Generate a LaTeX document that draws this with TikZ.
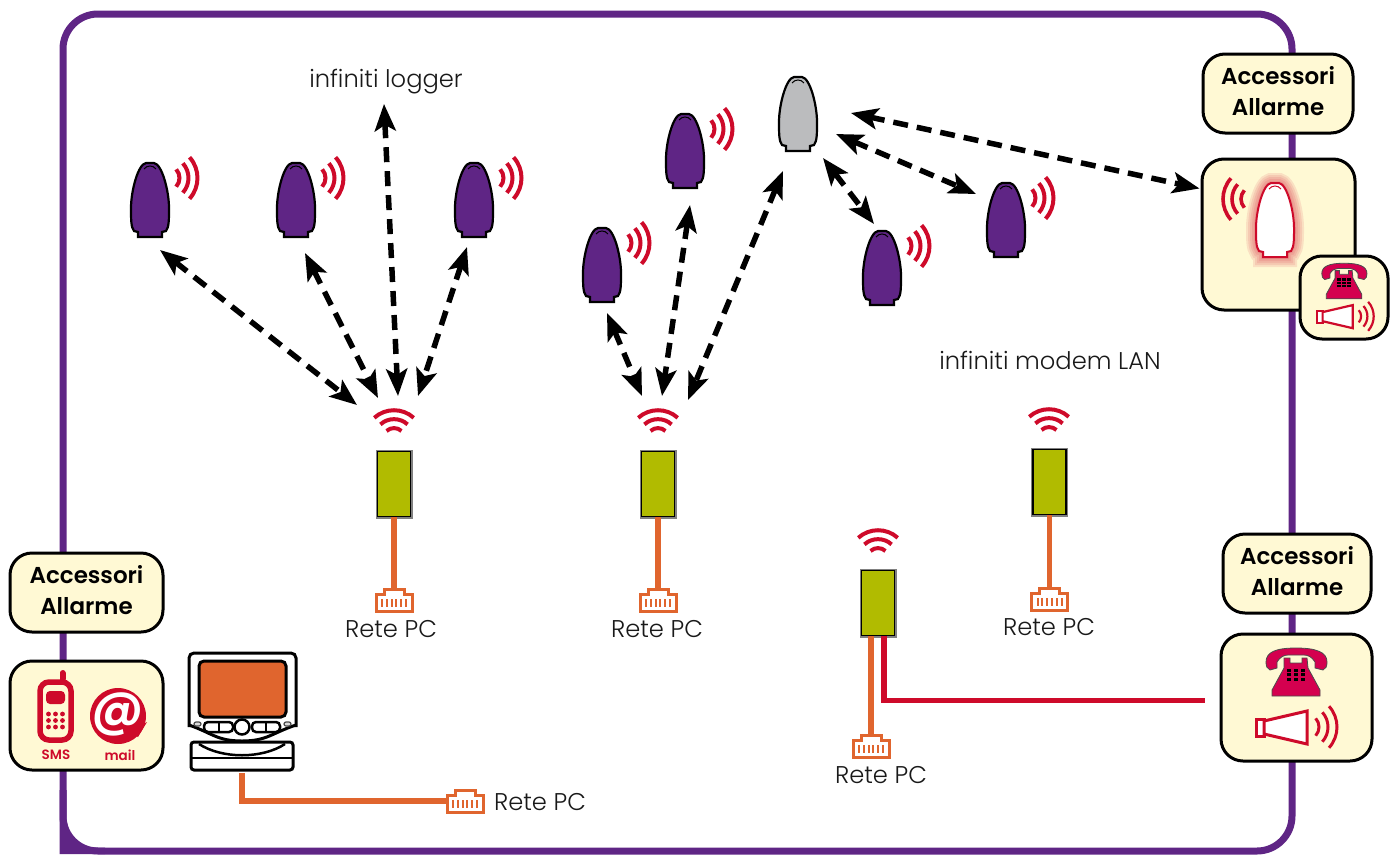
\documentclass[tikz,border=0pt]{standalone}
\usepackage{fontspec}
\newfontfamily\lightfont{Poppins}[UprightFont=* Light]
\newfontfamily\boldfont{Poppins}[UprightFont=* SemiBold]
\usetikzlibrary{positioning}
\usetikzlibrary{calc}
\usetikzlibrary{arrows.meta}

\definecolor{framepurple}{HTML}{5F2585}
\definecolor{alarmred}{HTML}{CE0A2A}
\definecolor{phonered}{HTML}{D4004F}
\definecolor{lanorange}{HTML}{E0652E}
\definecolor{routergreen}{HTML}{B1BB00}
\definecolor{boxcream}{HTML}{FFF9D4}
\definecolor{domegray}{HTML}{BBBCBE}

\newcommand{\wavearcs}{
    \foreach \r in {13, 22, 31}
        \draw[alarmred] (\r*0.743, -\r*0.669) .. controls (\r*1.085, -\r*0.289) and (\r*1.085, \r*0.289) .. (\r*0.743, \r*0.669);
}

\tikzset{
    spot/.style={inner sep=0pt, minimum size=1pt},
    creambox/.style={draw=black, fill=boxcream, line width=3pt, rounded corners=22pt, inner sep=0pt},
    titletext/.style={font=\boldfont\fontsize{23}{31}\selectfont, align=center, text depth=6pt},
    labeltext/.style={font=\lightfont\fontsize{24.2}{28}\selectfont, text=black!90},
    icontext/.style={font=\boldfont\fontsize{13.5}{15}\selectfont, text=alarmred},
    routerbox/.style={draw=black, fill=routergreen, line width=1.3pt, minimum width=33pt, minimum height=65pt,
        inner sep=0pt, preaction={draw=black!50, line width=4pt}},
    duallink/.style={line width=5.5pt, dash pattern=on 15pt off 9pt,
        {Stealth[length=27pt, width=21pt, inset=6pt]}-{Stealth[length=27pt, width=21pt, inset=6pt]}},
    lancable/.style={draw=lanorange, line width=5.5pt},
    telcable/.style={draw=alarmred, line width=5.5pt},
    % icons, drawn around the origin of the pic
    dome/.pic={
        \path[pic actions] (-12, 37) -- (-12, 32) -- (-16, 31) .. controls (-19, 27) and (-19, 20) .. (-19, 8)
            .. controls (-19, -9) and (-12, -36) .. (-4, -37) -- (4, -37) .. controls (12, -36) and (19, -9) .. (19, 8)
            .. controls (19, 20) and (19, 27) .. (16, 31) -- (12, 32) -- (12, 37) -- cycle;
        \path[pic actions, fill=none, line width=1pt] (-6, -31) .. controls (-3, -35) and (3, -35) .. (6, -31);
    },
    waves/.pic={\wavearcs},
    sensor/.pic={
        \pic[draw=black, fill=#1, line width=2.2pt] {dome};
        \pic[line width=4pt] at (16.5, -22) {waves};
    },
    wifi/.pic={
        \foreach \r in {11, 20, 29}
            \draw[alarmred, line width=4pt] (-\r*0.68, -\r*0.73) .. controls (-\r*0.30, -\r*1.08) and (\r*0.30, -\r*1.08) .. (\r*0.68, -\r*0.73);
    },
    plug/.pic={
        \draw[lanorange, fill=white, line width=3pt] (-18, -6) -- (-10, -6) -- (-10, -11) -- (10, -11) -- (10, -6)
            -- (18, -6) -- (18, 11) -- (-18, 11) -- cycle;
        \foreach \x in {-12, -7.2, -2.4, 2.4, 7.2, 12}
            \draw[lanorange, line width=2pt] (\x, -1) -- (\x, 7);
    },
    phone/.pic={
        \draw[fill=phonered, draw=black!70, line width=.8pt] (-30, -10) .. controls (-30, -20) and (-20, -24) .. (0, -24)
            .. controls (20, -24) and (31, -20) .. (31, -10) .. controls (31, -6) and (30, -3) .. (27, -2)
            -- (19, -4) -- (19, -10) .. controls (16, -15) and (12, -17) .. (8, -17) -- (-8, -17)
            .. controls (-12, -17) and (-16, -15) .. (-19, -10) -- (-19, -4) -- (-26, -2)
            .. controls (-29, -3) and (-30, -6) .. (-30, -10) -- cycle;
        \draw[fill=phonered, draw=black!70, line width=.8pt] (-12, -14) -- (-6, -14) -- (-6, -9) -- (6, -9) -- (6, -14)
            -- (11, -14) -- (12, -4) -- (24, 18) -- (24, 24) -- (-24, 24) -- (-24, 18) -- (-12, -4) -- cycle;
        \foreach \x in {-7, 0, 7}
            \foreach \y in {-2, 2.5, 7}
                \fill[black] (\x-2.3, \y-1.5) rectangle (\x+2.3, \y+1.5);
    },
    horn/.pic={
        \draw[alarmred, fill=white] (-40, -9) rectangle (-32, 8);
        \draw[alarmred, fill=white] (-32, -7) -- (11, -17) -- (11, 16) -- (-32, 6) -- cycle;
        \begin{scope}[shift={(10, -1)}]
            \wavearcs
        \end{scope}
    },
    mobile/.pic={
        \draw[alarmred, line width=6pt, line cap=round] (7, -38) -- (7, -32);
        \draw[alarmred, fill=boxcream, line width=5.5pt, rounded corners=9pt] (-15.5, -29) rectangle (15.5, 29);
        \fill[alarmred, rounded corners=4pt] (-9.5, -20) rectangle (9.5, -7);
        \foreach \x in {-7, 0, 7}
            \foreach \y in {3, 9.5, 16}
                \fill[alarmred] (\x, \y) circle (2.4);
    },
    atsign/.pic={
        \fill[alarmred] (0, 0) circle (28);
        \fill[alarmred] (29, 6) -- (20, 21) -- (12, 16) -- cycle;
        \node (ATS) [spot, text=white, font=\boldfont\fontsize{50}{50}\selectfont] at (0, -2) {@};
    },
    computer/.pic={
        \draw[black, fill=white, line width=3pt, rounded corners=5pt] (-53, 16) -- (-53, -58) -- (54, -58) -- (54, 16);
        \draw[black, fill=white, line width=3pt] (-53, 14) .. controls (-30, 22) and (-25, 30) .. (0, 30)
            .. controls (25, 30) and (30, 22) .. (54, 14);
        \draw[black, fill=lanorange, line width=3pt, rounded corners=5pt] (-43, -50) rectangle (44, 6);
        \draw[black, line width=2.5pt, fill=white, rounded corners=4pt] (-38, 11) rectangle (-9, 21);
        \draw[black, line width=2.5pt, fill=white, rounded corners=4pt] (10, 11) rectangle (38, 21);
        \draw[black, line width=1.5pt] (-23, 11) -- (-23, 21);
        \draw[black, line width=1.5pt] (24, 11) -- (24, 21);
        \draw[black, line width=2.5pt, fill=white] (0, 16) circle (7.5);
        \draw[black!70, fill=black!15, line width=1.2pt, rounded corners=2pt] (-48, 11) rectangle (-41, 15);
        \draw[black!70, fill=black!15, line width=1.2pt, rounded corners=2pt] (42, 11) rectangle (49, 15);
        \draw[black, fill=white, line width=3pt, rounded corners=3pt] (-51, 31) rectangle (51, 59);
        \draw[black, line width=2.5pt] (-51, 47) -- (51, 47);
        \draw[black, line width=2.5pt] (-43, 33) .. controls (-20, 48) and (20, 48) .. (43, 33);
    },
}

\begin{document}
\begin{tikzpicture}[x=1pt, y=-1pt]
    \useasboundingbox (0, 0) rectangle (1391, 854);

    % frame
    \draw[framepurple, line width=7pt, rounded corners=35pt] (63, 14) rectangle (1292, 851);
    \fill[framepurple] (59.5, 790) -- (59.5, 854) -- (105, 854) -- (105, 847.5) -- (96, 847.5)
        .. controls (78, 847.5) and (66.5, 836) .. (66.5, 815) -- (66.5, 790) -- cycle;

    % boxes on the frame
    \node (TR) [creambox, titletext, minimum width=150pt, minimum height=79pt] at (1278, 93.5) {Accessori\\Allarme};
    \node (AB) [creambox, minimum width=153pt, minimum height=151pt] at (1278.5, 234.5) {};
    \node (AC) [creambox, minimum width=88pt, minimum height=83pt] at (1344, 297.5) {};
    \node (TL) [creambox, titletext, minimum width=153pt, minimum height=79pt] at (86.5, 592.5) {Accessori\\Allarme};
    \node (BL) [creambox, minimum width=153pt, minimum height=109pt] at (86.5, 715.5) {};
    \node (TB) [creambox, titletext, minimum width=148pt, minimum height=79pt] at (1297, 573.5) {Accessori\\Allarme};
    \node (BB) [creambox, minimum width=151pt, minimum height=127pt] at (1296.5, 697.5) {};

    % contents of the boxes
    \foreach \w in {20, 16, 12, 8, 4}
        \pic[draw=alarmred, draw opacity=.1, line width=\w pt] at (1275, 220) {dome};
    \node (AD) [spot] at (1275, 220) {};
    \pic[draw=alarmred, fill=white, line width=2pt] at (AD) {dome};
    \pic[rotate=180, line width=3.6pt] at ($(AD) + (-21, -21)$) {waves};
    \pic[scale=.74] at (1344, 281) {phone};
    \pic[scale=.7, line width=2.2pt] at (1345, 317) {horn};
    \pic at (1296, 672) {phone};
    \pic[line width=3pt] at (1296, 728) {horn};
    \pic at (55.5, 711) {mobile};
    \pic at (118, 716) {atsign};
    \node (SMS) [spot, icontext] at (56, 755) {SMS};
    \node (ML) [spot, icontext] at (120, 755) {mail};

    % sensors
    \node (S1) [spot] at (150, 200) {};
    \node (S2) [spot] at (296, 200) {};
    \node (S3) [spot] at (474, 200) {};
    \node (S4) [spot] at (602, 265) {};
    \node (S5) [spot] at (685, 151) {};
    \node (S6) [spot] at (798, 114) {};
    \node (S7) [spot] at (882, 268) {};
    \node (S8) [spot] at (1006, 220) {};
    \pic at (S1) {sensor=framepurple};
    \pic at (S2) {sensor=framepurple};
    \pic at (S3) {sensor=framepurple};
    \pic at (S4) {sensor=framepurple};
    \pic at (S5) {sensor=framepurple};
    \pic[draw=black, fill=domegray, line width=2.2pt] at (S6) {dome};
    \pic at (S7) {sensor=framepurple};
    \pic at (S8) {sensor=framepurple};

    % routers with their radio sign
    \node (R1) [routerbox] at (394, 484) {};
    \node (R2) [routerbox] at (658, 484) {};
    \node (R3) [routerbox] at (1049.5, 482) {};
    \node (R4) [routerbox] at (878, 603) {};
    \node (W1) [spot] at (394, 439) {};
    \node (W2) [spot] at (658, 439) {};
    \node (W3) [spot] at (1049, 438) {};
    \node (W4) [spot] at (878, 559) {};
    \pic at (W1) {wifi};
    \pic at (W2) {wifi};
    \pic at (W3) {wifi};
    \pic at (W4) {wifi};

    % plugs
    \node (P1) [spot] at (394, 600) {};
    \node (P2) [spot] at (658, 600) {};
    \node (P3) [spot] at (1049.5, 599) {};
    \node (P4) [spot] at (871, 746) {};
    \node (P5) [spot] at (465, 801) {};
    \node (CP) [spot, minimum width=104pt, minimum height=120pt] at (242, 711) {};
    \coordinate (TE) at ($(BB.west) + (-15, 3)$);

    \draw[lancable] (R1.south) -- (P1.center);
    \draw[lancable] (R2.south) -- (P2.center);
    \draw[lancable] (R3.south) -- (P3.center);
    \draw[lancable] ($(R4.south) + (-7, 0)$) -- (P4.center);
    \draw[telcable] ($(R4.south) + (6, 0)$) |- (TE);
    \draw[lancable, shorten <=2pt] (CP.south) |- (P5.center);

    \pic at (P1) {plug};
    \pic at (P2) {plug};
    \pic at (P3) {plug};
    \pic at (P4) {plug};
    \pic at (P5) {plug};
    \pic at (CP) {computer};

    % labels
    \node (LG) [labeltext] at (386, 82) {infiniti logger};
    \node (LM) [labeltext] at (1050, 360) {infiniti modem LAN};
    \node (N1) [labeltext] at (391, 629) {Rete PC};
    \node (N2) [labeltext] at (657, 629) {Rete PC};
    \node (N3) [labeltext] at (1049, 627) {Rete PC};
    \node (N4) [labeltext] at (881, 775) {Rete PC};
    \node (N5) [labeltext] at (540, 802) {Rete PC};

    % radio links
    \draw[duallink] ($(S1) + (10, 50)$) -- ($(W1) + (-37, -34)$);
    \draw[duallink] ($(S2) + (9, 53)$) -- ($(W1) + (-16, -41)$);
    \draw[duallink] ($(LG.south) + (-2, 6)$) -- ($(W1) + (4, -43)$);
    \draw[duallink] ($(S3) + (-7, 47)$) -- ($(W1) + (24, -43)$);
    \draw[duallink] ($(S4) + (5, 48)$) -- ($(W2) + (-16, -43)$);
    \draw[duallink] ($(S5) + (5, 54)$) -- ($(W2) + (4, -43)$);
    \draw[duallink] ($(S6) + (-15, 57)$) -- ($(W2) + (30, -39)$);
    \draw[duallink] ($(S6) + (25, 44)$) -- ($(S7) + (-8, -44)$);
    \draw[duallink] ($(S6) + (38, 20)$) -- ($(S8) + (-30, -26)$);
    \draw[duallink] ($(S6) + (53, -1)$) -- ($(AB.west) + (-1, -46)$);
\end{tikzpicture}
\end{document}
